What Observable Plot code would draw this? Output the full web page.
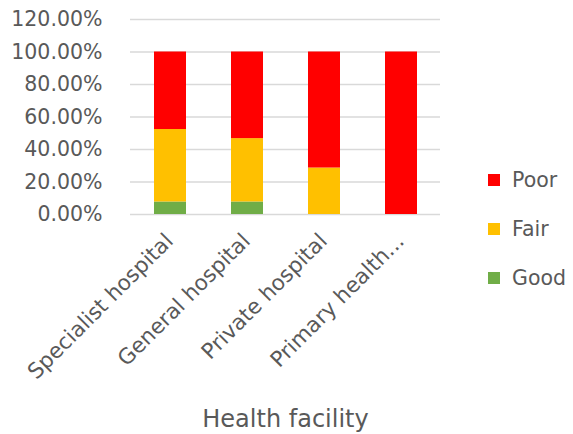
<!DOCTYPE html>
<html>
<head>
<meta charset="utf-8">
<script src="https://cdn.jsdelivr.net/npm/d3@7"></script>
<script src="https://cdn.jsdelivr.net/npm/@observablehq/plot@0.6"></script>
<style>
  body { margin: 0; background: #fff; }
  #chart { position: relative; width: 573px; height: 434px; font-family: "DejaVu Sans", sans-serif; }
  .legend { position: absolute; left: 488px; top: 168px; }
  .item { display: flex; align-items: center; height: 24px; margin-bottom: 25px; font-size: 20.5px; color: #595959; }
  .swatch { width: 12px; height: 12px; margin-right: 12px; }
</style>
</head>
<body>
<div id="chart"></div>
<script>
// Rating of health facilities, share of responses per facility type
const facilities = ["Specialist hospital", "General hospital", "Private hospital", "Primary health..."];
const ratings = ["Good", "Fair", "Poor"];
const good = [0.077, 0.077, 0, 0];
const fair = [0.446, 0.390, 0.286, 0];
const poor = [0.477, 0.533, 0.714, 1.0];
const ratingColors = ["#70AD47", "#FFC000", "#FF0000"];
const yTicks = [0, 0.2, 0.4, 0.6, 0.8, 1.0, 1.2];
const legendOrder = ["Poor", "Fair", "Good"];

const series = {Good: good, Fair: fair, Poor: poor};
const rows = facilities.flatMap((facility, i) =>
  ratings.map(rating => ({facility, rating, share: series[rating][i]}))
);

const pct = d3.format(".2%");

const chart = Plot.plot({
  width: 573,
  height: 434,
  marginTop: 19,
  marginBottom: 220,
  marginLeft: 130,
  marginRight: 133,
  style: {fontFamily: "DejaVu Sans, sans-serif", fontSize: "20px", color: "#595959", background: "white"},
  x: {domain: facilities, paddingInner: 0.586, paddingOuter: 0.3},
  y: {domain: [0, 1.2]},
  color: {domain: ratings, range: ratingColors},
  marks: [
    Plot.gridY(yTicks, {stroke: "#d9d9d9", strokeOpacity: 1, strokeWidth: 1.3}),
    Plot.barY(rows, {x: "facility", y: "share", fill: "rating", order: ratings}),
    Plot.axisY(yTicks, {tickSize: 0, tickPadding: 28, tickFormat: pct, label: null, fontSize: 20.5}),
    Plot.axisX({tickSize: 0, tickRotate: -45, tickPadding: 23, dx: -1, label: null, fontSize: 21.5}),
    Plot.axisX([], {label: "Health facility", labelAnchor: "center", labelOffset: 212, labelArrow: "none", fontSize: 24})
  ]
});

const root = document.getElementById("chart");
root.appendChild(chart);

// Legend, top entry first as in the stacked order
const legend = document.createElement("div");
legend.className = "legend";
const color = chart.scale("color");
for (const r of legendOrder) {
  const item = document.createElement("div");
  item.className = "item";
  const sw = document.createElement("span");
  sw.className = "swatch";
  sw.style.background = color.range[color.domain.indexOf(r)];
  const label = document.createElement("span");
  label.textContent = r;
  item.append(sw, label);
  legend.appendChild(item);
}
root.appendChild(legend);
</script>
</body>
</html>
